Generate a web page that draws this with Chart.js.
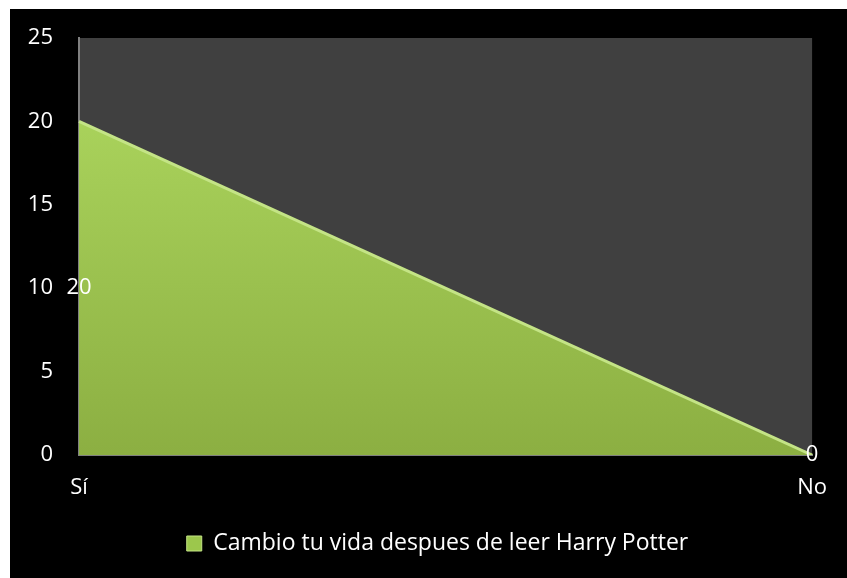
<!DOCTYPE html>
<html>
<head>
<meta charset="utf-8">
<script src="https://cdn.jsdelivr.net/npm/chart.js@4.4.0/dist/chart.umd.min.js"></script>
<style>
    html, body { margin: 0; padding: 0; background: #fff; }
    #wrap { position: absolute; left: 10px; top: 9px; width: 837px; height: 569px; background: #000; }
</style>
</head>
<body>
<div id="wrap"><canvas id="myChart" width="837" height="569"></canvas></div>
<script>
const categories = ['Sí', 'No'];
const seriesLabel = 'Cambio tu vida despues de leer Harry Potter';
const seriesValues = [20, 0];
const yTicks = [0, 5, 10, 15, 20, 25];

const FONT = '"Open Sans", Lato, sans-serif';

// dark plot background
const plotBg = {
    id: 'plotBg',
    beforeDraw(chart) {
        const { ctx, chartArea: a } = chart;
        ctx.save();
        ctx.fillStyle = '#404040';
        ctx.fillRect(a.left, a.top, a.right - a.left, a.bottom - a.top);
        ctx.restore();
    }
};

// the legend in the original sits centred on the whole frame, not the padded box
const legendShift = {
    id: 'legendShift',
    afterLayout(chart) {
        chart.legend.left += 26;
        chart.legend.right += 26;
    }
};

// value labels, drawn at half the value height like the original
const valueLabels = {
    id: 'valueLabels',
    afterDatasetsDraw(chart) {
        const { ctx } = chart;
        const meta = chart.getDatasetMeta(0);
        const y = chart.scales.y;
        ctx.save();
        ctx.fillStyle = '#fff';
        ctx.font = '22px ' + FONT;
        ctx.textAlign = 'center';
        ctx.textBaseline = 'middle';
        meta.data.forEach((pt, i) => {
            const v = chart.data.datasets[0].data[i];
            ctx.fillText(String(v), pt.x, y.getPixelForValue(v / 2));
        });
        ctx.restore();
    }
};

const ctx = document.getElementById('myChart').getContext('2d');

const grad = ctx.createLinearGradient(0, 110, 0, 445);
grad.addColorStop(0, '#a9d25b');
grad.addColorStop(1, '#8caf42');

const chart = new Chart(ctx, {
    type: 'line',
    data: {
        labels: categories,
        datasets: [{
            label: seriesLabel,
            data: seriesValues,
            fill: 'origin',
            backgroundColor: grad,
            borderColor: '#c4e486',
            borderWidth: 3,
            pointRadius: 0,
            tension: 0
        }]
    },
    options: {
        responsive: false,
        animation: false,
        layout: { padding: { top: 29, right: 34, left: 0, bottom: 13 } },
        scales: {
            x: {
                offset: false,
                grid: { display: false, drawTicks: false },
                border: { display: true, color: '#808080', width: 2 },
                ticks: { color: '#fff', font: { size: 22, family: FONT }, padding: 20, maxRotation: 0 },
                afterFit(s) { s.height = 67; }
            },
            y: {
                min: 0,
                max: 25,
                afterBuildTicks(s) { s.ticks = yTicks.map(v => ({ value: v })); },
                grid: { display: false, drawTicks: false },
                border: { display: true, color: '#808080', width: 2 },
                ticks: { color: '#fff', font: { size: 22, family: FONT }, padding: 26 },
                afterFit(s) {
                    s.width = 69;
                    s.paddingTop = 0;
                    s.paddingBottom = 0;
                }
            }
        },
        plugins: {
            legend: {
                position: 'bottom',
                labels: {
                    color: '#fff',
                    font: { size: 23, family: FONT },
                    boxWidth: 15,
                    boxHeight: 15,
                    padding: 10,
                    generateLabels(c) {
                        return [{
                            text: c.data.datasets[0].label,
                            fillStyle: '#9cc74c',
                            strokeStyle: '#c4e486',
                            lineWidth: 1,
                            fontColor: '#fff',
                            datasetIndex: 0
                        }];
                    }
                }
            },
            tooltip: { enabled: false }
        }
    },
    plugins: [plotBg, legendShift, valueLabels]
});
</script>
</body>
</html>
